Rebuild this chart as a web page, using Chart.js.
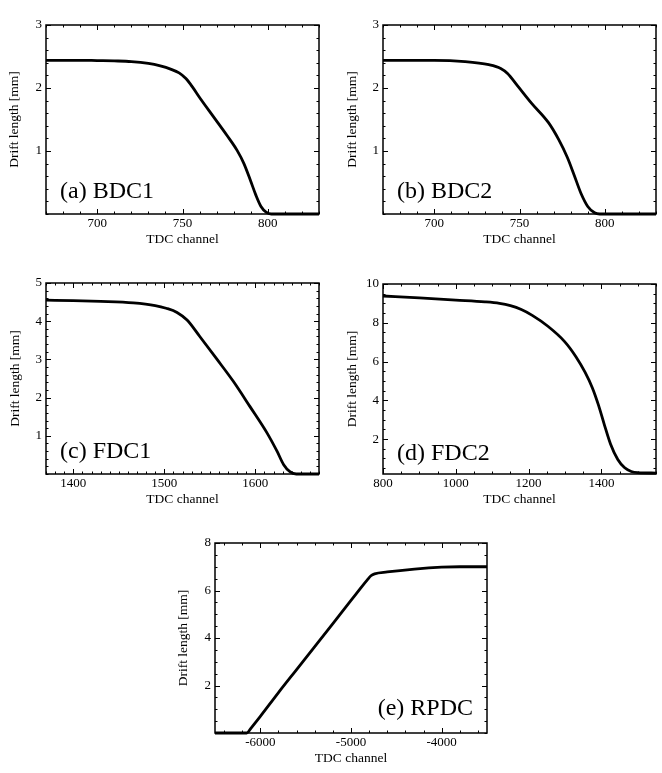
<!DOCTYPE html>
<html>
<head>
<meta charset="utf-8">
<script src="https://cdn.jsdelivr.net/npm/chart.js@4.4.0/dist/chart.umd.min.js"></script>
<style>
  html, body { margin: 0; padding: 0; background: #fff; }
  #page { position: relative; width: 662px; height: 773px; overflow: hidden; background: #fff; }
  #page canvas { position: absolute; }
</style>
</head>
<body>
<div id="page"></div>
<script>
// (a) BDC1
const bdc1Channel = [670, 690, 700, 710, 720, 730, 737, 743, 748, 752, 756, 760, 768, 776, 782, 786, 790, 793, 796, 799, 802, 830];
const bdc1Drift   = [2.44, 2.44, 2.435, 2.43, 2.42, 2.39, 2.35, 2.30, 2.24, 2.15, 2.01, 1.85, 1.55, 1.25, 1.01, 0.80, 0.52, 0.30, 0.12, 0.03, 0, 0];
const bdc1XTicks = [700, 750, 800];
const bdc1YTicks = [1, 2, 3];

// (b) BDC2
const bdc2Channel = [670, 700, 718, 732, 739, 743, 749, 757, 767, 773, 778, 782, 786, 790, 794, 797, 830];
const bdc2Drift   = [2.44, 2.44, 2.42, 2.37, 2.31, 2.23, 2.03, 1.76, 1.45, 1.18, 0.90, 0.62, 0.33, 0.12, 0.02, 0, 0];
const bdc2XTicks = [700, 750, 800];
const bdc2YTicks = [1, 2, 3];

// (c) FDC1
const fdc1Channel = [1370, 1400, 1430, 1466, 1490, 1502, 1514, 1525, 1539, 1558, 1576, 1594, 1613, 1624, 1631, 1638, 1645, 1670];
const fdc1Drift   = [4.55, 4.54, 4.52, 4.48, 4.41, 4.34, 4.23, 4.03, 3.60, 3.00, 2.42, 1.77, 1.07, 0.59, 0.25, 0.06, 0, 0];
const fdc1XTicks = [1400, 1500, 1600];
const fdc1YTicks = [1, 2, 3, 4, 5];

// (d) FDC2
const fdc2Channel = [800, 900, 1000, 1080, 1120, 1150, 1180, 1210, 1253, 1299, 1330, 1355, 1375, 1392, 1408, 1425, 1445, 1464, 1482, 1500, 1550];
const fdc2Drift   = [9.38, 9.28, 9.17, 9.08, 9.00, 8.88, 8.68, 8.38, 7.82, 7.03, 6.25, 5.45, 4.65, 3.75, 2.75, 1.75, 0.95, 0.52, 0.33, 0.27, 0.25];
const fdc2XTicks = [800, 1000, 1200, 1400];
const fdc2YTicks = [2, 4, 6, 8, 10];

// (e) RPDC
const rpdcChannel = [-6500, -6150, -6100, -6000, -5800, -5600, -5400, -5200, -5000, -4900, -4820, -4780, -4740, -4600, -4300, -4000, -3800, -3500];
const rpdcDrift   = [0, 0, 0.22, 0.70, 1.70, 2.67, 3.64, 4.61, 5.58, 6.07, 6.45, 6.62, 6.70, 6.78, 6.90, 6.98, 7.00, 7.00];
const rpdcXTicks = [-6000, -5000, -4000];
const rpdcYTicks = [2, 4, 6, 8];

const FONT = "'Liberation Serif', 'Times New Roman', serif";
Chart.defaults.font.family = FONT;
Chart.defaults.color = '#000';

// frame with inward ticks on all four sides, plus the panel name
const frameTicks = {
  id: 'frameTicks',
  afterDatasetsDraw(chart, args, opts) {
    const { ctx, chartArea: a, scales: { x, y } } = chart;
    ctx.save();
    ctx.strokeStyle = '#000';
    ctx.lineWidth = 1;
    ctx.beginPath();
    const isMajor = (scale, v) => scale.ticks.some(t => Math.abs(t.value - v) < 1e-6);

    for (let i = Math.ceil(x.min / opts.xMinor); i * opts.xMinor <= x.max + 1e-9; i++) {
      const v = i * opts.xMinor;
      const px = Math.round(x.getPixelForValue(v)) + 0.5;
      const len = isMajor(x, v) ? 5 : 2.5;
      ctx.moveTo(px, a.bottom); ctx.lineTo(px, a.bottom - len);
      ctx.moveTo(px, a.top); ctx.lineTo(px, a.top + len);
    }
    for (let i = Math.ceil(y.min / opts.yMinor - 1e-9); i * opts.yMinor <= y.max + 1e-9; i++) {
      const v = i * opts.yMinor;
      const py = Math.round(y.getPixelForValue(v)) + 0.5;
      const len = isMajor(y, v) ? 5 : 2.5;
      ctx.moveTo(a.left, py); ctx.lineTo(a.left + len, py);
      ctx.moveTo(a.right, py); ctx.lineTo(a.right - len, py);
    }
    ctx.stroke();

    ctx.lineWidth = 1.5;
    ctx.strokeRect(a.left, a.top, a.right - a.left, a.bottom - a.top);

    ctx.font = '24px ' + FONT;
    ctx.fillStyle = '#000';
    ctx.textAlign = opts.align;
    ctx.textBaseline = 'alphabetic';
    const lx = opts.align === 'right' ? a.right - opts.dx : a.left + opts.dx;
    ctx.fillText(opts.label, lx, a.bottom - opts.dy);
    ctx.restore();
  }
};

function makePanel(p) {
  const [l, t, r, b] = p.plot;
  const cLeft = p.yTitleX - 12;
  const cTop = t - 20;
  const width = r - cLeft + 8;
  const height = b - cTop + 40;

  const canvas = document.createElement('canvas');
  canvas.width = width;
  canvas.height = height;
  canvas.style.left = cLeft + 'px';
  canvas.style.top = cTop + 'px';
  canvas.style.width = width + 'px';
  canvas.style.height = height + 'px';
  document.getElementById('page').appendChild(canvas);

  new Chart(canvas.getContext('2d'), {
    type: 'line',
    data: {
      datasets: [{
        data: p.xs.map((x, i) => ({ x: x, y: p.ys[i] })),
        borderColor: '#000',
        borderWidth: 2.8,
        pointRadius: 0,
        cubicInterpolationMode: 'monotone',
        clip: false
      }]
    },
    options: {
      responsive: false,
      animation: false,
      devicePixelRatio: 1,
      layout: { padding: { left: 0, top: 20, right: 8, bottom: 0 } },
      plugins: {
        legend: { display: false },
        tooltip: { enabled: false },
        frameTicks: { xMinor: p.xMinor, yMinor: p.yMinor, label: p.label, align: p.align, dx: p.dx, dy: p.dy }
      },
      scales: {
        x: {
          type: 'linear',
          min: p.xRange[0],
          max: p.xRange[1],
          grid: { display: false, drawTicks: false },
          border: { display: false },
          afterBuildTicks: s => { s.ticks = p.xTicks.map(v => ({ value: v })); },
          afterFit: s => { s.height = 40; },
          ticks: { font: { size: 13 }, padding: 2, maxRotation: 0, autoSkip: false, callback: v => String(v) },
          title: { display: true, text: 'TDC channel', font: { size: 13.5 }, padding: { top: 0, bottom: 6.9 } }
        },
        y: {
          type: 'linear',
          min: p.yRange[0],
          max: p.yRange[1],
          grid: { display: false, drawTicks: false },
          border: { display: false },
          afterBuildTicks: s => { s.ticks = p.yTicks.map(v => ({ value: v })); },
          afterFit: s => { s.width = l - cLeft; },
          ticks: { font: { size: 13 }, padding: 4, autoSkip: false, callback: v => String(v) },
          title: { display: true, text: 'Drift length [mm]', font: { size: 13.5 }, padding: { top: 3.9, bottom: 0 } }
        }
      }
    },
    plugins: [frameTicks]
  });
}

makePanel({ plot: [46, 25, 319, 214], yTitleX: 14, xs: bdc1Channel, ys: bdc1Drift, xRange: [670, 830], yRange: [0, 3],
  xTicks: bdc1XTicks, yTicks: bdc1YTicks, xMinor: 10, yMinor: 0.2, label: '(a) BDC1', align: 'left', dx: 14, dy: 16 });
makePanel({ plot: [383, 25, 656, 214], yTitleX: 352, xs: bdc2Channel, ys: bdc2Drift, xRange: [670, 830], yRange: [0, 3],
  xTicks: bdc2XTicks, yTicks: bdc2YTicks, xMinor: 10, yMinor: 0.2, label: '(b) BDC2', align: 'left', dx: 14, dy: 16 });
makePanel({ plot: [46, 283, 319, 474], yTitleX: 15, xs: fdc1Channel, ys: fdc1Drift, xRange: [1370, 1670], yRange: [0, 5],
  xTicks: fdc1XTicks, yTicks: fdc1YTicks, xMinor: 10, yMinor: 0.2, label: '(c) FDC1', align: 'left', dx: 14, dy: 16 });
makePanel({ plot: [383, 284, 656, 474], yTitleX: 352, xs: fdc2Channel, ys: fdc2Drift, xRange: [800, 1550], yRange: [0.2, 10],
  xTicks: fdc2XTicks, yTicks: fdc2YTicks, xMinor: 50, yMinor: 0.5, label: '(d) FDC2', align: 'left', dx: 14, dy: 14 });
makePanel({ plot: [215, 543, 487, 733], yTitleX: 183, xs: rpdcChannel, ys: rpdcDrift, xRange: [-6500, -3500], yRange: [0, 8],
  xTicks: rpdcXTicks, yTicks: rpdcYTicks, xMinor: 200, yMinor: 0.5, label: '(e) RPDC', align: 'right', dx: 14, dy: 18 });
</script>
</body>
</html>
